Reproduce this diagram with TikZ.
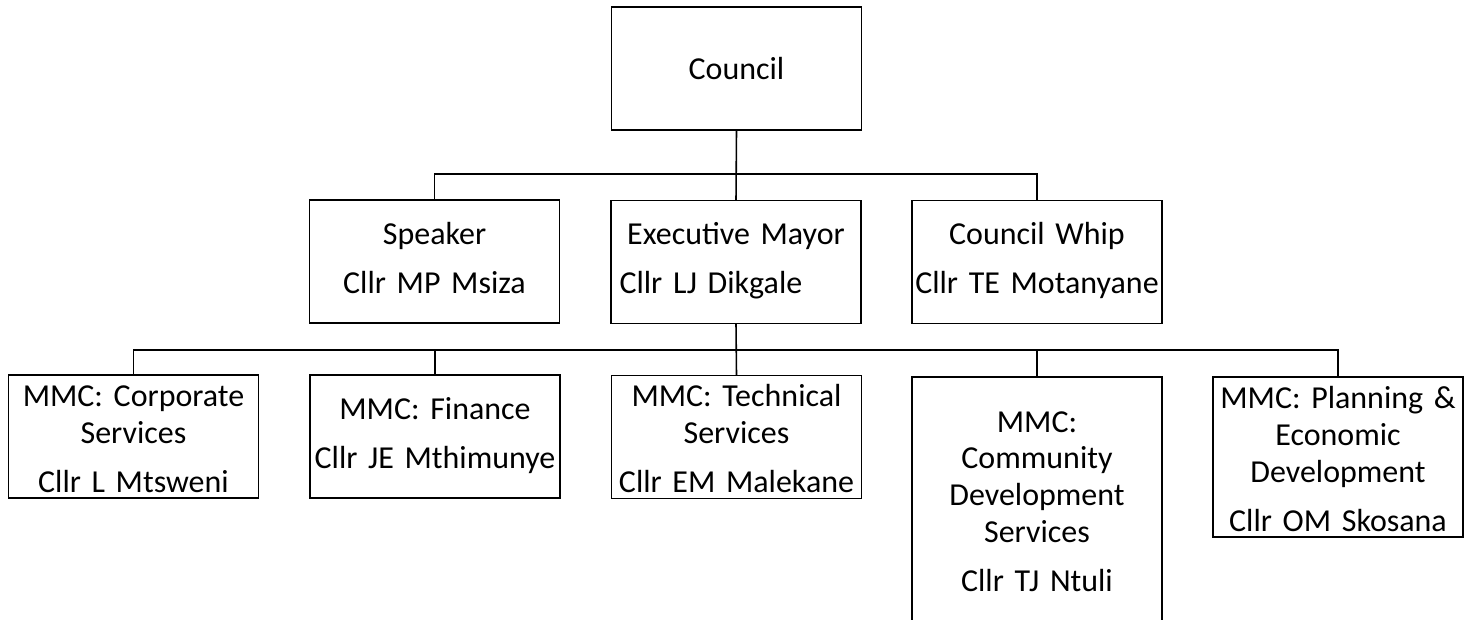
\documentclass[tikz,border=0pt]{standalone}
\usepackage{fontspec}
\setmainfont{Carlito}
\usepackage{tikz}

\begin{document}
\begin{tikzpicture}[x=0.02cm,y=-0.02cm,
    caixa/.style={draw, line width=0.7pt, rectangle, minimum width=5cm, minimum height=2.46cm,
        inner sep=0pt, text width=4.9cm, align=center, font=\fontsize{18.2pt}{21pt}\selectfont},
    liga/.style={line width=0.9pt}]
    \useasboundingbox (0,0) rectangle (1477,619);

    % Council
    \node[caixa] (council) at (736.5,68.5) {Council};

    % Office bearers
    \node[caixa] (speaker) at (434.5,261.5) {\strut Speaker\\[0.24cm]\strut Cllr MP Msiza};
    \node[caixa, align=left] (mayor) at (736,262) {\makebox[4.9cm]{\strut Executive Mayor}\\[0.24cm]\hspace*{0.12cm}\strut Cllr LJ Dikgale};
    \node[caixa] (whip) at (1037,262) {\strut Council Whip\\[0.24cm]\strut Cllr TE Motanyane};

    % MMCs
    \node[caixa] (corporate) at (133.5,436.5) {\strut MMC: Corporate\\Services\\[0.24cm]Cllr L Mtsweni};
    \node[caixa] (finance) at (435,436.5) {\strut MMC: Finance\\[0.24cm]\strut Cllr JE Mthimunye};
    \node[caixa] (technical) at (736.5,437) {\strut MMC: Technical\\Services\\[0.24cm]Cllr EM Malekane};
    \node[caixa, minimum height=4.88cm] (community) at (1037,499) {\strut MMC:\\Community\\Development\\Services\\[0.24cm]Cllr TJ Ntuli};
    \node[caixa, minimum height=3.2cm] (planning) at (1338,457) {\strut MMC: Planning \&\\Economic\\Development\\[0.24cm]Cllr OM Skosana};

    % Lines
    \coordinate (bus1) at (736,174);
    \coordinate (bus2) at (736,350);
    \draw[liga] (council.south) -- (mayor.north);
    \draw[liga] (speaker.north) -- (speaker.north |- bus1) -- (whip.north |- bus1) -- (whip.north);
    \draw[liga] (mayor.south) -- (technical.north);
    \draw[liga] (corporate.north) -- (corporate.north |- bus2) -- (planning.north |- bus2) -- (planning.north);
    \draw[liga] (finance.north) -- (finance.north |- bus2);
    \draw[liga] (community.north) -- (community.north |- bus2);
\end{tikzpicture}
\end{document}
